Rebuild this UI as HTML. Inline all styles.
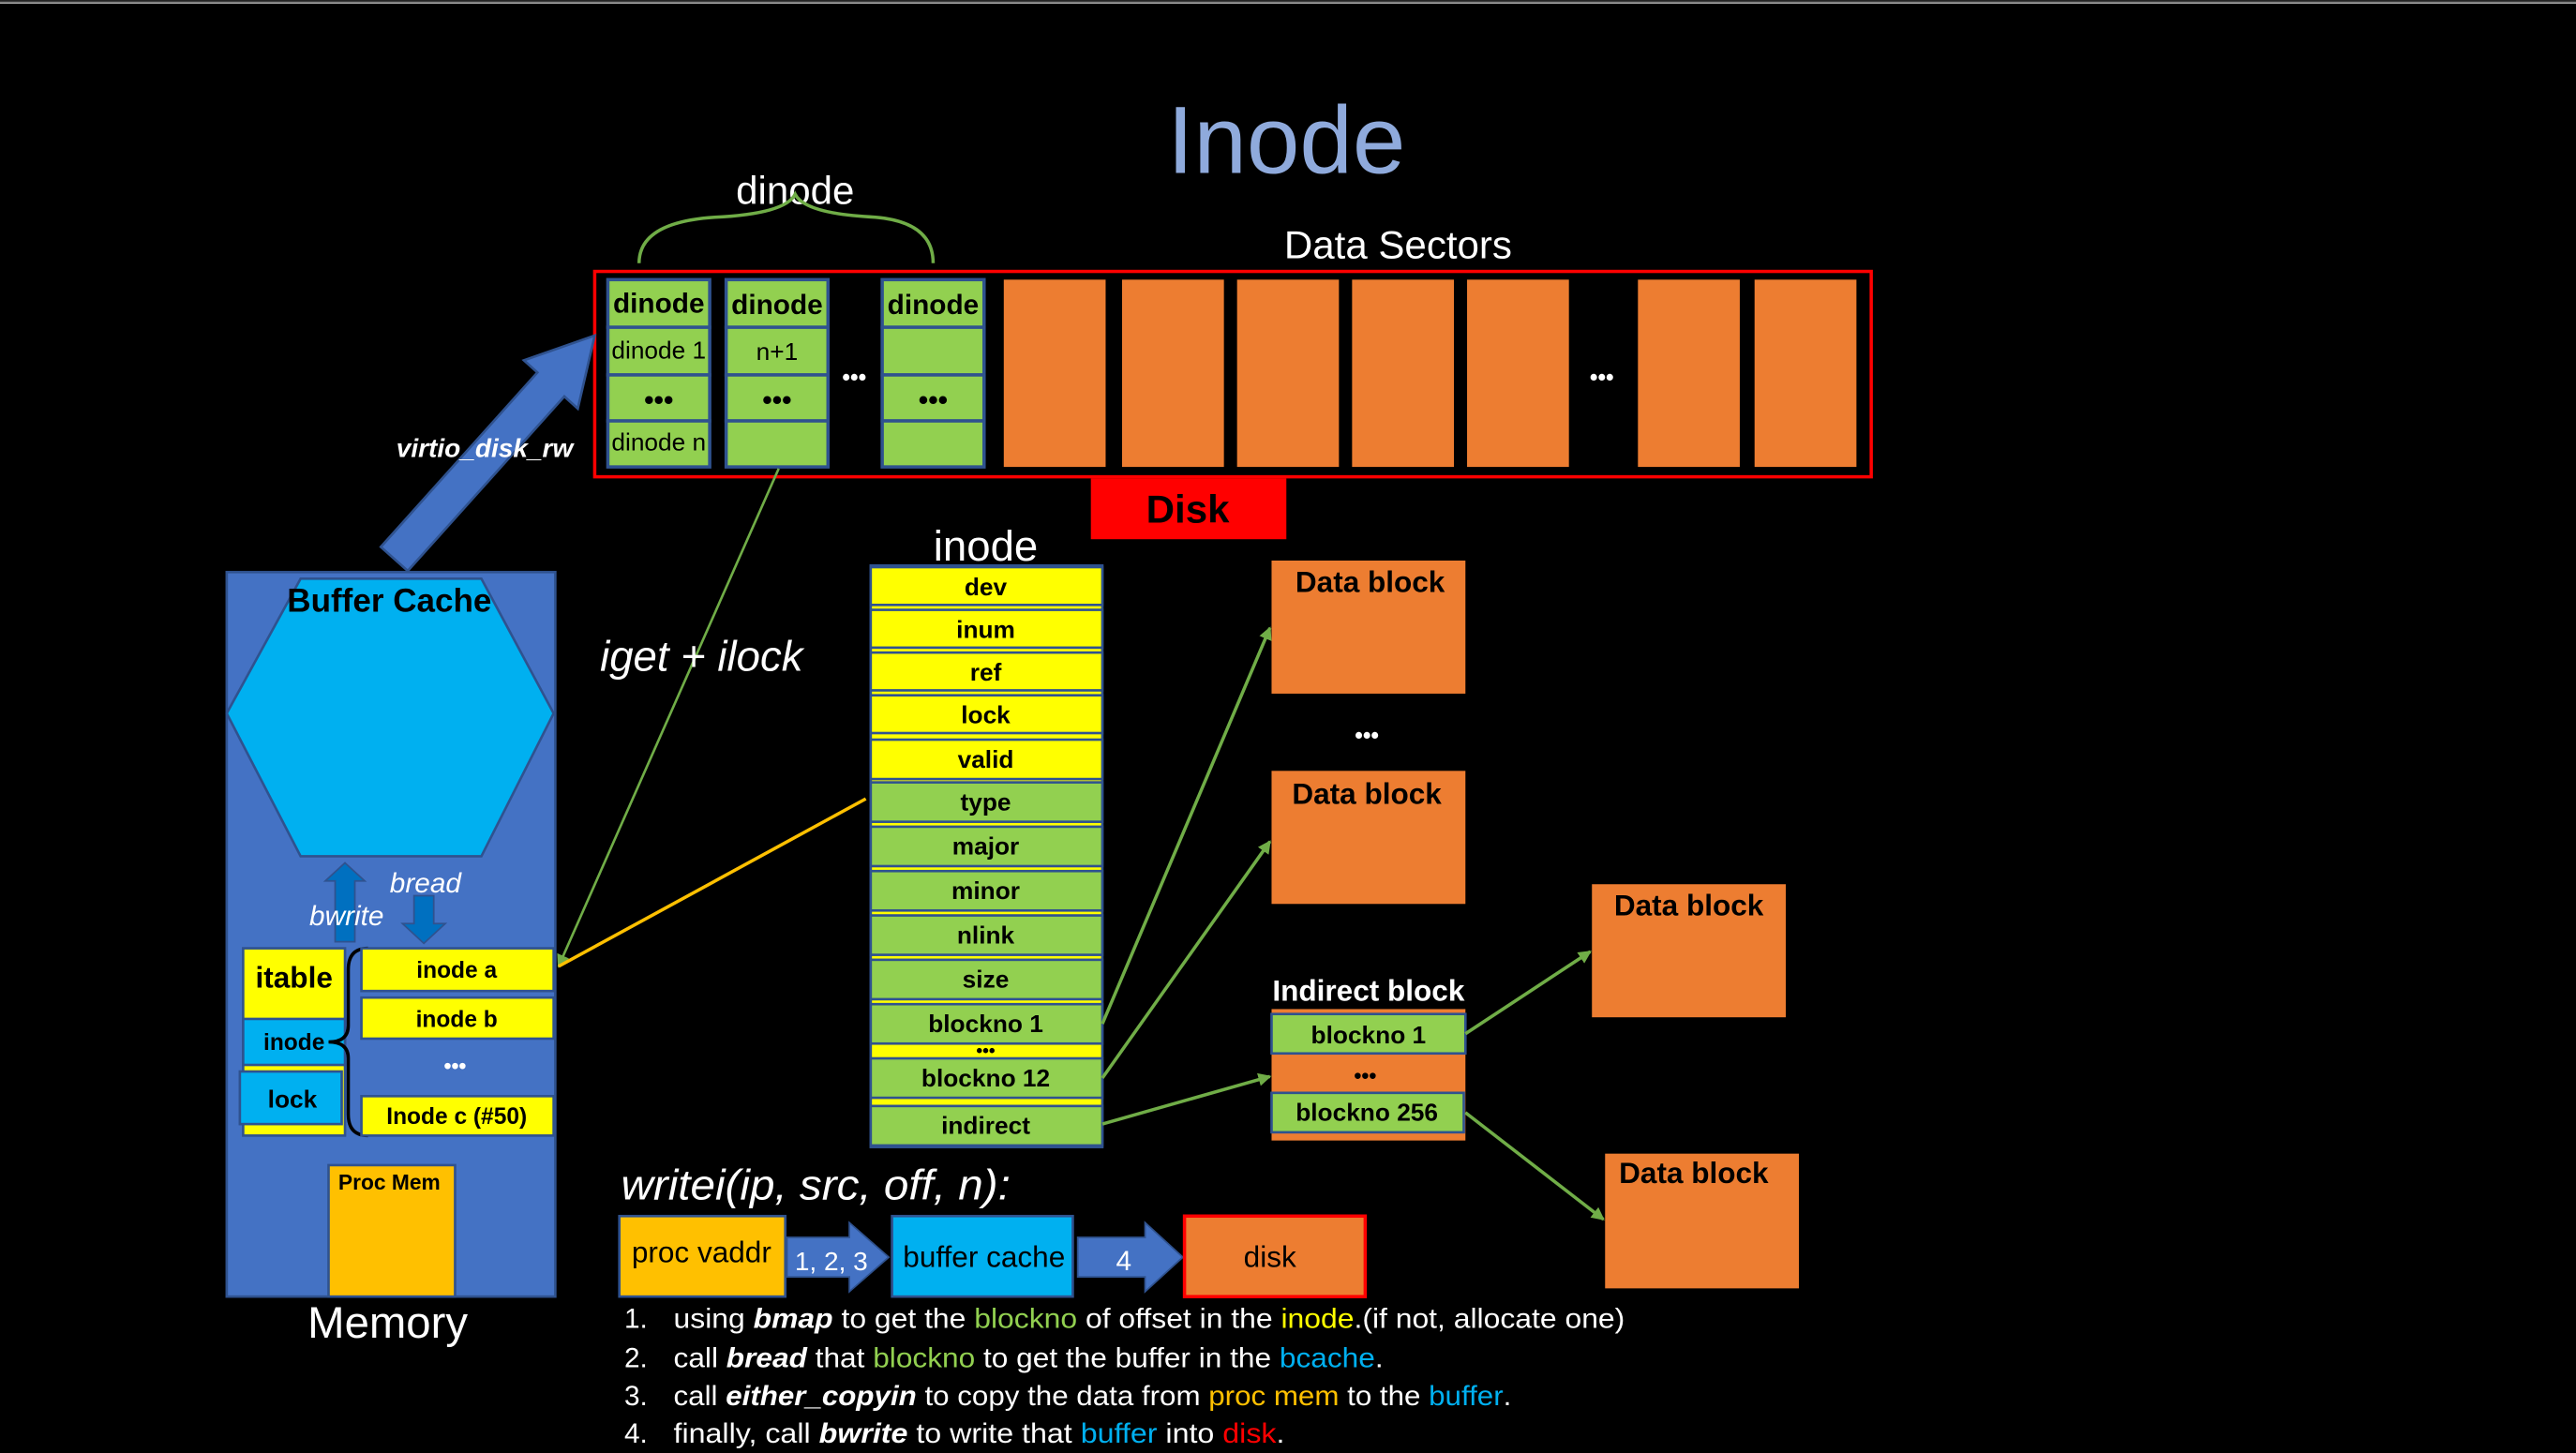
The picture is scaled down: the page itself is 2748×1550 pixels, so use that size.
<!DOCTYPE html>
<html><head><meta charset="utf-8"><style>
html,body{margin:0;padding:0;background:#000;}
svg{display:block;}
text{font-family:"Liberation Sans Narrow","Liberation Sans",sans-serif;}
</style></head><body>
<svg width="2748" height="1550" viewBox="0 0 1568 884" xmlns="http://www.w3.org/2000/svg">
<defs>
<marker id="ga" markerWidth="8" markerHeight="8" refX="7" refY="4" orient="auto" markerUnits="userSpaceOnUse"><path d="M0,0 L8,4 L0,8 z" fill="#70ad47"/></marker>
</defs>
<rect width="1568" height="884" fill="#000"/>
<rect x="0" y="0" width="1568" height="1.2" fill="#3a3a3a"/>
<rect x="0" y="1.2" width="1568" height="0.8" fill="#bbb"/>

<text x="783" y="105" font-size="58" fill="#8faadc" text-anchor="middle" font-family="Liberation Sans">Inode</text>
<text x="484" y="124" font-size="24" fill="#fff" text-anchor="middle" font-family="Liberation Sans">dinode</text>
<path d="M389,160 Q389,135 435,132 Q478,130 484,118 Q490,130 533,132 Q568,135 568,160" fill="none" stroke="#70ad47" stroke-width="2"/>
<text x="851" y="157" font-size="24" fill="#fff" text-anchor="middle" font-family="Liberation Sans">Data Sectors</text>

<rect x="362" y="165" width="777" height="125" fill="none" stroke="#f00" stroke-width="2"/>
<g stroke="#2f528f" stroke-width="2" fill="#92d050">
<rect x="370" y="170" width="62" height="29"/><rect x="370" y="199" width="62" height="29"/><rect x="370" y="228" width="62" height="28"/><rect x="370" y="256" width="62" height="28"/>
<rect x="442" y="170" width="62" height="29"/><rect x="442" y="199" width="62" height="29"/><rect x="442" y="228" width="62" height="28"/><rect x="442" y="256" width="62" height="28"/>
<rect x="537" y="170" width="62" height="29"/><rect x="537" y="199" width="62" height="29"/><rect x="537" y="228" width="62" height="28"/><rect x="537" y="256" width="62" height="28"/>
</g>
<g font-size="17" font-weight="bold" text-anchor="middle" fill="#000">
<text x="401" y="190">dinode</text><text x="473" y="191">dinode</text><text x="568" y="191">dinode</text>
<text x="401" y="249">•••</text><text x="473" y="249">•••</text><text x="568" y="249">•••</text>
</g>
<g font-size="15" text-anchor="middle" fill="#000">
<text x="401" y="218">dinode 1</text><text x="473" y="219">n+1</text><text x="401" y="274">dinode n</text>
</g>
<text x="520" y="234" font-size="14" font-weight="bold" fill="#fff" text-anchor="middle">•••</text>
<text x="975" y="234" font-size="14" font-weight="bold" fill="#fff" text-anchor="middle">•••</text>
<g fill="#ed7d31">
<rect x="611" y="170" width="62" height="114"/><rect x="683" y="170" width="62" height="114"/><rect x="753" y="170" width="62" height="114"/><rect x="823" y="170" width="62" height="114"/><rect x="893" y="170" width="62" height="114"/><rect x="997" y="170" width="62" height="114"/><rect x="1068" y="170" width="62" height="114"/>
</g>
<rect x="664" y="291" width="119" height="37" fill="#f00"/>
<text x="723" y="318" font-size="24" font-weight="bold" fill="#000" text-anchor="middle" font-family="Liberation Sans">Disk</text>

<polygon points="248.2,347.3 343.5,241.1 351.7,248.5 362,204 318.9,219.1 327.1,226.5 231.8,332.7" fill="#4472c4" stroke="#2f528f" stroke-width="1.5"/>
<text x="295" y="278" font-size="16" font-weight="bold" font-style="italic" fill="#fff" text-anchor="middle" font-family="Liberation Sans">virtio_disk_rw</text>

<rect x="138" y="348" width="200" height="441" fill="#4472c4" stroke="#2f528f" stroke-width="1.5"/>
<polygon points="138,434 183,352 293,352 337,434 293,521 183,521" fill="#00b0f0" stroke="#2f528f" stroke-width="1.5"/>
<text x="237" y="372" font-size="20" font-weight="bold" fill="#000" text-anchor="middle" font-family="Liberation Sans">Buffer Cache</text>
<polygon points="210,525 222,536 216,536 216,573 204,573 204,536 198,536" fill="#0070c0" stroke="#2f528f"/>
<polygon points="252,545 264,545 264,562 271,562 258,574 245,562 252,562" fill="#0070c0" stroke="#2f528f"/>
<text x="259" y="543" font-size="17" font-style="italic" fill="#fff" text-anchor="middle" font-family="Liberation Sans">bread</text>
<text x="211" y="563" font-size="17" font-style="italic" fill="#fff" text-anchor="middle" font-family="Liberation Sans">bwrite</text>
<rect x="148" y="577" width="62" height="114" fill="#ff0" stroke="#2f528f" stroke-width="1.5"/>
<rect x="148" y="620" width="62" height="28" fill="#00b0f0" stroke="#2f528f" stroke-width="1.5"/>
<rect x="146" y="652" width="62" height="32" fill="#00b0f0" stroke="#2f528f" stroke-width="1.5"/>
<g font-weight="bold" fill="#000" text-anchor="middle" font-family="Liberation Sans">
<text x="179" y="601" font-size="18">itable</text>
<text x="179" y="639" font-size="14">inode</text>
<text x="178" y="674" font-size="15">lock</text>
</g>
<path d="M224,577 Q212,577 212,590 L212,624 Q212,634 200,634 Q212,634 212,644 L212,678 Q212,691 224,691" fill="none" stroke="#000" stroke-width="2"/>
<g stroke="#2f528f" stroke-width="1.5" fill="#ff0">
<rect x="220" y="577" width="117" height="26"/><rect x="220" y="607" width="117" height="25"/><rect x="220" y="667" width="117" height="24"/>
</g>
<g font-size="14" font-weight="bold" fill="#000" text-anchor="middle" font-family="Liberation Sans">
<text x="278" y="595">inode a</text><text x="278" y="625">inode b</text><text x="278" y="684">Inode c (#50)</text>
</g>
<text x="277" y="653" font-size="13" font-weight="bold" fill="#fff" text-anchor="middle">•••</text>
<rect x="200" y="709" width="77" height="80" fill="#ffc000" stroke="#2f528f" stroke-width="1.5"/>
<text x="237" y="724" font-size="13" font-weight="bold" fill="#000" text-anchor="middle" font-family="Liberation Sans">Proc Mem</text>
<text x="236" y="814" font-size="27" fill="#fff" text-anchor="middle" font-family="Liberation Sans">Memory</text>

<line x1="474" y1="285" x2="340" y2="588" stroke="#70ad47" stroke-width="1.5" marker-end="url(#ga)"/>
<line x1="527" y1="486" x2="340" y2="588" stroke="#ffc000" stroke-width="2"/>
<text x="427" y="408" font-size="26" font-style="italic" fill="#fff" text-anchor="middle" font-family="Liberation Sans">iget + ilock</text>

<text x="600" y="341" font-size="26" fill="#fff" text-anchor="middle" font-family="Liberation Sans">inode</text>
<rect x="530" y="344" width="141" height="354" fill="#ff0" stroke="#2f528f" stroke-width="1.5"/>
<g stroke="#2f528f" stroke-width="1.5">
<rect x="530" y="345" width="141" height="23" fill="#ff0"/>
<rect x="530" y="371" width="141" height="23" fill="#ff0"/>
<rect x="530" y="397" width="141" height="23" fill="#ff0"/>
<rect x="530" y="423" width="141" height="23" fill="#ff0"/>
<rect x="530" y="450" width="141" height="24" fill="#ff0"/>
<rect x="530" y="476" width="141" height="24" fill="#92d050"/>
<rect x="530" y="503" width="141" height="24" fill="#92d050"/>
<rect x="530" y="530" width="141" height="24" fill="#92d050"/>
<rect x="530" y="557" width="141" height="24" fill="#92d050"/>
<rect x="530" y="584" width="141" height="24" fill="#92d050"/>
<rect x="530" y="611" width="141" height="24" fill="#92d050"/>
<rect x="530" y="644" width="141" height="24" fill="#92d050"/>
<rect x="530" y="673" width="141" height="24" fill="#92d050"/>
</g>
<g font-size="15" font-weight="bold" fill="#000" text-anchor="middle">
<text x="600" y="362">dev</text><text x="600" y="388">inum</text><text x="600" y="414">ref</text><text x="600" y="440">lock</text><text x="600" y="467">valid</text>
<text x="600" y="493">type</text><text x="600" y="520">major</text><text x="600" y="547">minor</text><text x="600" y="574">nlink</text><text x="600" y="601">size</text>
<text x="600" y="628">blockno 1</text><text x="600" y="661">blockno 12</text><text x="600" y="690">indirect</text>
</g>
<text x="600" y="643" font-size="11" font-weight="bold" fill="#000" text-anchor="middle">•••</text>

<g fill="#ed7d31">
<rect x="774" y="341" width="118" height="81"/><rect x="774" y="469" width="118" height="81"/>
<rect x="969" y="538" width="118" height="81"/><rect x="977" y="702" width="118" height="82"/>
<rect x="774" y="614" width="118" height="80"/>
</g>
<g font-size="18" font-weight="bold" fill="#000" text-anchor="middle">
<text x="834" y="360">Data block</text><text x="832" y="489">Data block</text>
<text x="1028" y="557">Data block</text><text x="1031" y="720">Data block</text>
</g>
<text x="832" y="452" font-size="14" font-weight="bold" fill="#fff" text-anchor="middle">•••</text>
<text x="833" y="609" font-size="18" font-weight="bold" fill="#fff" text-anchor="middle">Indirect block</text>
<g stroke="#2f528f" stroke-width="1.5" fill="#92d050">
<rect x="774" y="617" width="118" height="24"/><rect x="774" y="665" width="117" height="24"/>
</g>
<g font-size="15" font-weight="bold" fill="#000" text-anchor="middle">
<text x="833" y="635">blockno 1</text><text x="832" y="682">blockno 256</text>
</g>
<text x="831" y="659" font-size="13" font-weight="bold" fill="#000" text-anchor="middle">•••</text>

<g stroke="#70ad47" stroke-width="2" marker-end="url(#ga)">
<line x1="671" y1="623" x2="773" y2="382"/>
<line x1="671" y1="656" x2="773" y2="512"/>
<line x1="671" y1="684" x2="773" y2="655"/>
<line x1="892" y1="629" x2="968" y2="579"/>
<line x1="892" y1="677" x2="976" y2="742"/>
</g>

<text x="378" y="730" font-size="26" font-style="italic" fill="#fff" textLength="237" lengthAdjust="spacingAndGlyphs">writei(ip, src, off, n):</text>
<rect x="377" y="740" width="101" height="49" fill="#ffc000" stroke="#2f528f" stroke-width="1.5"/>
<text x="427" y="768" font-size="18" fill="#000" text-anchor="middle">proc vaddr</text>
<polygon points="479,753 517,753 517,744 541,765 517,786 517,777 479,777" fill="#4472c4" stroke="#2f528f"/>
<text x="506" y="773" font-size="16" fill="#fff" text-anchor="middle">1, 2, 3</text>
<rect x="543" y="740" width="110" height="49" fill="#00b0f0" stroke="#2f528f" stroke-width="1.5"/>
<text x="599" y="771" font-size="18" fill="#000" text-anchor="middle">buffer cache</text>
<polygon points="656,753 697,753 697,744 720,765 697,786 697,777 656,777" fill="#4472c4" stroke="#2f528f"/>
<text x="684" y="773" font-size="17" fill="#fff" text-anchor="middle">4</text>
<rect x="721" y="740" width="110" height="49" fill="#ed7d31" stroke="#f00" stroke-width="2"/>
<text x="773" y="771" font-size="18" fill="#000" text-anchor="middle">disk</text>

<g font-size="17" fill="#fff">
<text x="380" y="808">1.</text><text x="410" y="808" textLength="579" lengthAdjust="spacingAndGlyphs">using <tspan font-weight="bold" font-style="italic">bmap</tspan> to get the <tspan fill="#92d050">blockno</tspan> of offset in the <tspan fill="#ff0">inode</tspan>.(if not, allocate one)</text>
<text x="380" y="832">2.</text><text x="410" y="832" textLength="432" lengthAdjust="spacingAndGlyphs">call <tspan font-weight="bold" font-style="italic">bread</tspan> that <tspan fill="#92d050">blockno</tspan> to get the buffer in the <tspan fill="#00b0f0">bcache</tspan>.</text>
<text x="380" y="855">3.</text><text x="410" y="855" textLength="510" lengthAdjust="spacingAndGlyphs">call <tspan font-weight="bold" font-style="italic">either_copyin</tspan> to copy the data from <tspan fill="#ffc000">proc mem</tspan> to the <tspan fill="#00b0f0">buffer</tspan>.</text>
<text x="380" y="878">4.</text><text x="410" y="878" textLength="372" lengthAdjust="spacingAndGlyphs">finally, call <tspan font-weight="bold" font-style="italic">bwrite</tspan> to write that <tspan fill="#00b0f0">buffer</tspan> into <tspan fill="#f00">disk</tspan>.</text>
</g>
</svg>
</body></html>
